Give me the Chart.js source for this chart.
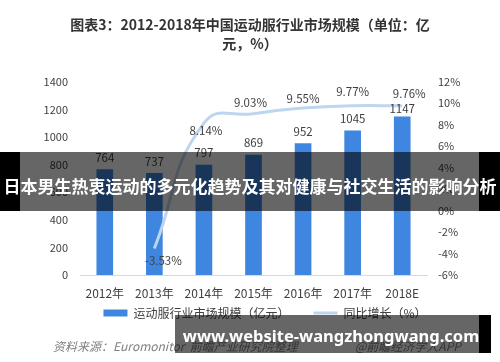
<!DOCTYPE html>
<html>
<head>
<meta charset="utf-8">
<script src="https://cdn.jsdelivr.net/npm/chart.js@4/dist/chart.umd.min.js"></script>
<style>
  html, body { margin: 0; padding: 0; background: #fff; }
  #wrap { position: relative; width: 500px; height: 362px; overflow: hidden; }
  #chart { position: absolute; left: 0; top: 0; }
  .source { position: absolute; top: 337px; font: italic 12px "Noto Sans CJK SC", sans-serif; color: #7f7f7f; white-space: nowrap; }
  .band { position: absolute; }
  .dark { background: #000; }
  .shade { background: rgba(0, 0, 0, 0.6); }
  .bandText { position: absolute; color: #fff; font-weight: bold; white-space: nowrap; text-align: center; }
</style>
</head>
<body>
<div id="wrap">
  <canvas id="chart" width="500" height="362"></canvas>
  <div class="source" style="left:53px;">资料来源：Euromonitor&nbsp;&nbsp;前瞻产业研究院整理</div>
  <div class="source" style="left:355px;">@前瞻经济学人APP</div>

  <!-- top banner -->
  <div class="band dark" style="left:0; top:152px; width:20px; height:59px;"></div>
  <div class="band shade" style="left:20px; top:152px; width:459px; height:59px;"></div>
  <div class="band dark" style="left:479px; top:152px; width:21px; height:59px;"></div>
  <div class="bandText" style="left:0; width:500px; top:174px; font-size:17px; line-height:24px; font-family:'Noto Sans CJK SC', sans-serif;">日本男生热衷运动的多元化趋势及其对健康与社交生活的影响分析</div>

  <!-- bottom banner -->
  <div class="band shade" style="left:175px; top:315px; width:304px; height:38px;"></div>
  <div class="band dark" style="left:479px; top:315px; width:12px; height:38px;"></div>
  <div class="bandText" style="left:179px; width:304px; top:324px; font-size:16.5px; line-height:24px; font-family:'Noto Sans', sans-serif;">www.website-wangzhongwang.com</div>
</div>

<script>
// chart values
const years = ['2012年', '2013年', '2014年', '2015年', '2016年', '2017年', '2018E'];
const marketSize = [764, 737, 797, 869, 952, 1045, 1147];
const growthRate = [null, -3.53, 8.14, 9.03, 9.55, 9.77, 9.76];

// label placement (style only): gap above each bar, shift of each growth label from its point
const barLabelGap = [12, 12, 12, 12, 12, 12, 8];
const rateLabelShift = [[0, 0], [9, 12], [2, 7], [-3, -11], [0, -9], [0, -14], [7, -12]];

const fontFamily = '"Noto Sans CJK SC", "Noto Sans", sans-serif';
Chart.defaults.font.family = fontFamily;

// Draws the value labels over bars and line points
const valueLabels = {
    id: 'valueLabels',
    afterDatasetsDraw(chart) {
        const ctx = chart.ctx;
        ctx.save();
        ctx.font = '11.5px ' + fontFamily;
        ctx.fillStyle = '#404040';
        ctx.textAlign = 'center';
        ctx.textBaseline = 'middle';
        chart.getDatasetMeta(0).data.forEach((bar, i) => {
            ctx.fillText(marketSize[i], bar.x, bar.y - barLabelGap[i]);
        });
        chart.getDatasetMeta(1).data.forEach((pt, i) => {
            if (growthRate[i] === null) return;
            const [dx, dy] = rateLabelShift[i];
            ctx.fillText(growthRate[i].toFixed(2) + '%', pt.x + dx, pt.y + dy);
        });
        ctx.restore();
    }
};

// move the legend closer to the axis labels, and a bit right, like the original
const legendShift = {
    id: 'legendShift',
    afterLayout(chart) {
        const lg = chart.legend;
        lg.left += 15;
        lg.right += 15;
        lg.top -= 18;
        lg.bottom -= 18;
    }
};

new Chart(document.getElementById('chart'), {
    type: 'bar',
    data: {
        labels: years,
        datasets: [
            {
                type: 'bar',
                label: '运动服行业市场规模（亿元）',
                data: marketSize,
                backgroundColor: '#3f86e0',
                borderWidth: 0,
                barThickness: 16,
                yAxisID: 'y',
                order: 1,
                pointStyle: 'rect'
            },
            {
                type: 'line',
                label: '同比增长（%）',
                data: growthRate,
                borderColor: '#bed5ef',
                backgroundColor: '#bed5ef',
                borderWidth: 3,
                tension: 0.5,
                pointRadius: 0,
                yAxisID: 'y1',
                order: 0,
                pointStyle: 'line'
            }
        ]
    },
    options: {
        responsive: false,
        animation: false,
        layout: { padding: { left: 0, right: 0, top: 0, bottom: 15 } },
        scales: {
            x: {
                grid: { display: false, drawTicks: false },
                border: { color: '#d9d9d9' },
                ticks: { color: '#404040', font: { size: 12 }, padding: 11 },
                afterFit: s => { s.height = 26; }
            },
            y: {
                position: 'left',
                min: 0,
                max: 1400,
                grid: { display: false, drawTicks: false },
                border: { display: false },
                ticks: { stepSize: 200, color: '#404040', font: { size: 11 }, padding: 12, callback: v => v },
                afterFit: s => { s.width = 80; }
            },
            y1: {
                position: 'right',
                min: -6,
                max: 12,
                grid: { display: false, drawTicks: false },
                border: { display: false },
                ticks: { stepSize: 2, color: '#404040', font: { size: 11 }, padding: 11, callback: v => v + '%' },
                afterFit: s => { s.width = 73; }
            }
        },
        plugins: {
            title: {
                display: true,
                text: ['图表3：2012-2018年中国运动服行业市场规模（单位：亿', '元，%）'],
                color: '#333333',
                font: { size: 14, weight: 'bold', lineHeight: 1.35 },
                padding: { top: 15, bottom: 29 }
            },
            legend: {
                position: 'bottom',
                labels: {
                    color: '#404040',
                    font: { size: 12 },
                    usePointStyle: true,
                    pointStyleWidth: 24,
                    boxHeight: 7,
                    padding: 24,
                    sort: (a, b) => a.datasetIndex - b.datasetIndex
                }
            },
            tooltip: { enabled: false }
        }
    },
    plugins: [valueLabels, legendShift]
});
</script>
</body>
</html>
